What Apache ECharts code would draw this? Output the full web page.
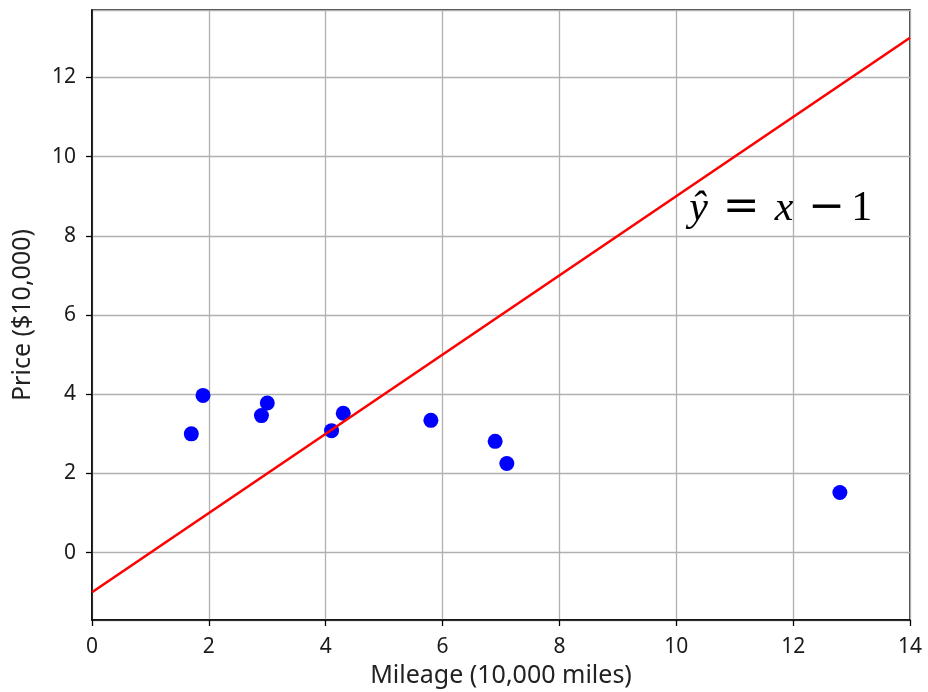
<!DOCTYPE html>
<html>
<head>
<meta charset="utf-8">
<script src="https://cdn.jsdelivr.net/npm/echarts@6/dist/echarts.min.js"></script>
<style>
  html, body { margin: 0; padding: 0; background: #fff; }
  #chart { width: 928px; height: 692px; }
</style>
</head>
<body>
<div id="chart"></div>
<script>
// mileage (10,000 miles) and price ($10,000) for each car
const mileage = [1.7, 1.9, 2.9, 3.0, 4.1, 4.3, 5.8, 6.9, 7.1, 12.8]
const price = [3.0, 3.97, 3.46, 3.78, 3.08, 3.52, 3.34, 2.81, 2.25, 1.52]

// fitted line y = x - 1, drawn across the x range
const lineX = [0, 14]
const lineY = [-1, 13]

const xRange = [0, 14]
const yRange = [-1.7, 13.7]

const font = 'Noto Sans'

let chart = echarts.init(document.getElementById('chart'))

let option = {
  animation: false,
  grid: {
    left: 92,
    right: 18,
    top: 10,
    bottom: 72,
    outerBoundsMode: 'none',
    containLabel: false,
    show: true,
    borderColor: '#000',
    borderWidth: 1.5,
    backgroundColor: 'transparent'
  },
  xAxis: {
    type: 'value',
    min: xRange[0],
    max: xRange[1],
    interval: 2,
    name: 'Mileage (10,000 miles)',
    nameLocation: 'middle',
    nameGap: 38,
    nameTextStyle: { fontFamily: font, fontSize: 25, color: '#222' },
    axisLine: { show: true, onZero: false, lineStyle: { color: '#000', width: 1.5 } },
    axisTick: { show: true, length: 6, lineStyle: { color: '#000', width: 1.3 } },
    axisLabel: { fontFamily: font, fontSize: 21, color: '#1a1a1a', margin: 17 },
    splitLine: { show: true, lineStyle: { color: '#b0b0b0', width: 1.3 } }
  },
  yAxis: {
    type: 'value',
    min: yRange[0],
    max: yRange[1],
    splitNumber: 7,
    minInterval: 2,
    maxInterval: 2,
    name: 'Price ($10,000)',
    nameLocation: 'middle',
    nameGap: 57,
    nameTextStyle: { fontFamily: font, fontSize: 25, color: '#222' },
    axisLine: { show: true, onZero: false, lineStyle: { color: '#000', width: 1.5 } },
    axisTick: { show: true, length: 6, lineStyle: { color: '#000', width: 1.3 } },
    axisLabel: {
      fontFamily: font,
      fontSize: 21,
      color: '#1a1a1a',
      margin: 16,
      showMinLabel: false,
      showMaxLabel: false,
      formatter: v => (Math.abs(v % 2) < 1e-9 ? String(v) : '')
    },
    splitLine: { show: true, lineStyle: { color: '#b0b0b0', width: 1.3 } }
  },
  series: [{
    type: 'scatter',
    symbol: 'circle',
    symbolSize: 15,
    itemStyle: { color: '#0000ff', opacity: 1 },
    data: mileage.map((x, i) => [x, price[i]]),
    z: 2
  }, {
    type: 'line',
    symbol: 'none',
    lineStyle: { color: '#ff0000', width: 2.6 },
    data: lineX.map((x, i) => [x, lineY[i]]),
    z: 3
  }]
}

chart.setOption(option)

// equation label, anchored in data space
let anchor = chart.convertToPixel({ gridIndex: 0 }, [10.22, 8.12])
chart.setOption({
  graphic: [{
    type: 'text',
    x: anchor[0],
    y: anchor[1],
    style: {
      text: '{i|ŷ}{s|}{o|=}{s|}{i|x}{s|}{o|−}{t|}{n|1}',
      verticalAlign: 'bottom',
      rich: {
        i: { fontFamily: 'Liberation Serif', fontStyle: 'italic', fontSize: 42, fill: '#000' },
        n: { fontFamily: 'Liberation Serif', fontSize: 42, fill: '#000' },
        o: { fontFamily: 'DejaVu Serif', fontSize: 44, fill: '#000' },
        s: { width: 15, fontSize: 42 },
        t: { width: 6, fontSize: 42 }
      }
    },
    z: 10
  }]
})
</script>
</body>
</html>
